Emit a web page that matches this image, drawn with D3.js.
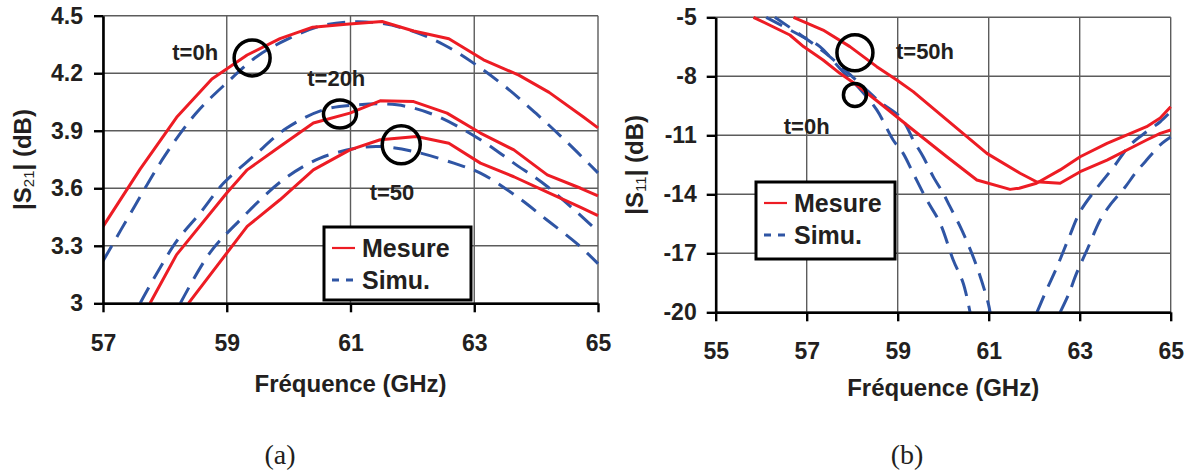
<!DOCTYPE html>
<html><head><meta charset="utf-8">
<script src="https://cdn.jsdelivr.net/npm/d3@7"></script>
<style>body{margin:0;background:#fff}svg{display:block}</style>
</head><body>
<svg id="chart" width="1192" height="473"></svg>
<script>
// ---------- Panel (a) |S21| ----------
const s21XTicks = [57, 59, 61, 63, 65];
const s21YTicks = [3, 3.3, 3.6, 3.9, 4.2, 4.5];
const s21YTickLabels = ["3", "3.3", "3.6", "3.9", "4.2", "4.5"];

const s21Mes0hFreq = [57.0,57.6,58.19,58.76,59.33,59.86,60.39,60.93,61.51,62.02,62.59,63.15,63.72,64.21,64.77,65.0];
const s21Mes0h     = [3.40,3.70,3.97,4.17,4.295,4.38,4.44,4.455,4.47,4.42,4.38,4.27,4.19,4.10,3.97,3.915];
const s21Sim0hFreq = [57.0,57.5,58.0,58.5,59.0,59.5,60.0,60.5,61.0,61.5,62.0,62.5,63.0,63.5,64.0,64.5,65.0];
const s21Sim0h     = [3.22,3.50,3.77,3.99,4.15,4.29,4.38,4.445,4.468,4.46,4.42,4.35,4.25,4.13,3.99,3.84,3.68];

const s21Mes20hFreq = [57.76,58.19,59.0,59.33,59.86,60.40,60.99,61.48,62.02,62.56,63.10,63.64,64.18,64.72,65.0];
const s21Mes20h     = [3.0,3.254,3.575,3.696,3.818,3.94,3.992,4.056,4.052,3.992,3.888,3.80,3.67,3.60,3.56];
const s21Sim20hFreq = [57.6,58.17,58.57,58.95,59.43,59.97,60.56,61.10,61.75,62.35,63.10,63.64,64.18,65.0];
const s21Sim20h     = [3.0,3.315,3.471,3.627,3.766,3.914,4.009,4.035,4.035,3.983,3.853,3.731,3.609,3.375];

const s21Mes50hFreq = [58.38,59.33,59.86,60.40,60.99,61.48,62.07,62.59,63.10,63.64,64.18,64.72,65.0];
const s21Mes50h     = [3.0,3.401,3.54,3.696,3.80,3.853,3.87,3.835,3.731,3.66,3.58,3.50,3.457];
const s21Sim50hFreq = [58.25,58.73,59.22,59.91,60.51,61.10,61.48,62.02,62.67,63.10,63.67,64.17,64.66,65.0];
const s21Sim50h     = [3.0,3.264,3.436,3.644,3.757,3.809,3.818,3.792,3.731,3.679,3.561,3.436,3.311,3.207];

// ---------- Panel (b) |S11| ----------
const s11XTicks = [55, 57, 59, 61, 63, 65];
const s11YTicks = [-20, -17, -14, -11, -8, -5];
const s11YTickLabels = ["-20", "-17", "-14", "-11", "-8", "-5"];

const s11Mes0hFreq = [55.83,56.63,56.93,57.36,57.73,58.10,58.61,59.34,60.08,60.74,61.47,61.67,62.05,62.57,63.01,63.60,64.47,64.77,65.0];
const s11Mes0h     = [-5.0,-5.90,-6.49,-7.17,-7.85,-8.44,-9.37,-10.73,-12.09,-13.27,-13.75,-13.69,-13.44,-12.76,-12.09,-11.41,-10.56,-10.12,-9.55];
const s11Mes50hFreq = [56.71,57.36,57.95,58.54,58.98,59.34,60.08,60.96,61.69,62.05,62.57,63.01,63.60,64.47,64.77,65.0];
const s11Mes50h     = [-5.0,-5.65,-6.49,-7.51,-8.19,-8.78,-10.22,-11.92,-12.93,-13.36,-13.44,-12.85,-12.26,-11.24,-10.90,-10.73];
// simulated curves dip below -20 dB (off-chart): null marks the gap
const s11Sim0hFreq = [56.11,56.80,57.29,57.73,58.15,58.54,58.90,59.12,59.34,59.64,59.93,60.22,60.44,60.59,61.3,62.06,62.27,62.49,62.77,63.01,63.37,63.73,64.11,64.47,64.77,65.0];
const s11Sim0h     = [-5.0,-5.85,-6.49,-7.60,-8.60,-9.71,-11.24,-11.92,-12.93,-14.29,-15.46,-17.34,-18.52,-20,null,-20,-18.87,-17.75,-16.17,-14.88,-13.70,-12.66,-11.49,-10.82,-10.31,-9.80];
const s11Sim50hFreq = [56.30,56.90,57.40,57.85,58.25,58.61,59.05,59.20,59.34,59.56,59.78,60.00,60.15,60.41,60.74,60.99,61.03,61.8,62.57,62.75,62.93,63.18,63.45,63.67,64.00,64.22,64.44,64.77,65.0];
const s11Sim50h     = [-5.0,-5.95,-6.80,-7.70,-8.55,-9.30,-10.05,-10.56,-11.24,-12.09,-13.10,-13.95,-14.63,-15.82,-17.68,-19.54,-20,null,-20,-19.12,-18.02,-16.73,-15.31,-14.54,-13.63,-12.93,-12.34,-11.49,-11.09];

const legendLabels = ["Mesure", "Simu."];

// ---------- drawing ----------
const svg = d3.select("#chart");
svg.append("rect").attr("width", 1192).attr("height", 473).attr("fill", "#fff");
const FONT = "'Liberation Sans', Arial, Helvetica, sans-serif";
const RED = "#ed1c24", BLUE = "#2f55a4", GRID = "#5c5c5c", INK = "#231f20";

function panel(c) {
  const g = svg.append("g");
  const x = d3.scaleLinear().domain(c.xDomain).range([c.left, c.right]);
  const y = d3.scaleLinear().domain(c.yDomain).range([c.bottom, c.top]);
  const clipId = "clip" + c.id;
  svg.append("clipPath").attr("id", clipId).append("rect")
    .attr("x", c.left).attr("y", c.top - 2).attr("width", c.right - c.left + 2).attr("height", c.bottom - c.top + 3);

  // grid
  g.append("g").selectAll("line").data(c.xTicks).join("line")
    .attr("x1", d => x(d)).attr("x2", d => x(d)).attr("y1", c.top).attr("y2", c.bottom)
    .attr("stroke", GRID).attr("stroke-width", 1.4);
  g.append("g").selectAll("line").data(c.yTicks).join("line")
    .attr("x1", c.left).attr("x2", c.right).attr("y1", d => y(d)).attr("y2", d => y(d))
    .attr("stroke", GRID).attr("stroke-width", 1.4);

  // curves
  const cg = g.append("g").attr("clip-path", `url(#${clipId})`);
  c.series.forEach(s => {
    const pts = s.f.map((f, i) => [f, s.v[i]]);
    const line = d3.line().defined(d => d[1] !== null).x(d => x(d[0])).y(d => y(d[1]))
      .curve(s.sim ? d3.curveCatmullRom.alpha(0.5) : d3.curveLinear);
    cg.append("path").attr("d", line(pts)).attr("fill", "none")
      .attr("stroke", s.sim ? BLUE : RED).attr("stroke-width", 3)
      .attr("stroke-dasharray", s.sim ? "18,10" : null)
      .attr("stroke-linejoin", "round");
  });

  // axes
  const ax = g.append("g").attr("transform", `translate(0,${c.bottom})`)
    .call(d3.axisBottom(x).tickValues(c.xTicks).tickSize(9).tickSizeOuter(0).tickPadding(c.xPad).tickFormat(d3.format("d")));
  const ay = g.append("g").attr("transform", `translate(${c.left},0)`)
    .call(d3.axisLeft(y).tickValues(c.yTicks).tickSize(9).tickSizeOuter(0).tickPadding(c.yPad).tickFormat((d, i) => c.yLabels[i]));
  [ax, ay].forEach(a => {
    a.select(".domain").attr("stroke", "#000").attr("stroke-width", 2.6);
    a.selectAll(".tick line").attr("stroke", "#000").attr("stroke-width", 2.4);
    a.selectAll(".tick text").attr("fill", INK).style("font-family", FONT)
      .style("font-size", "23px").style("font-weight", "bold");
  });

  // axis titles
  g.append("text").attr("x", (c.left + c.right) / 2).attr("y", c.xTitleY)
    .attr("text-anchor", "middle").attr("fill", INK)
    .style("font-family", FONT).style("font-size", "24px").style("font-weight", "bold")
    .text("Fréquence (GHz)");
  const yt = g.append("text")
    .attr("transform", `translate(${c.yTitleX},${(c.top + c.bottom) / 2}) rotate(-90)`)
    .attr("text-anchor", "middle").attr("fill", INK)
    .style("font-family", FONT).style("font-size", "24px").style("font-weight", "bold");
  yt.append("tspan").text("|S");
  yt.append("tspan").attr("dy", 3).style("font-size", "15px").style("font-weight", "normal").text(c.sub);
  yt.append("tspan").attr("dy", -3).text("| (dB)");

  // legend
  const L = c.legend;
  g.append("rect").attr("x", L.x).attr("y", L.y).attr("width", L.w).attr("height", L.h)
    .attr("fill", "#fff").attr("stroke", "#000").attr("stroke-width", 3);
  legendLabels.forEach((lab, i) => {
    const ly = L.y + L.rows[i];
    g.append("line").attr("x1", L.x + 8).attr("x2", L.x + 31).attr("y1", ly).attr("y2", ly)
      .attr("stroke", i === 0 ? RED : BLUE).attr("stroke-width", i === 0 ? 2.2 : 3)
      .attr("stroke-dasharray", i === 0 ? null : "7,7");
    g.append("text").attr("x", L.x + 38).attr("y", ly).attr("dy", "0.35em").attr("fill", INK)
      .style("font-family", FONT).style("font-size", "25px").style("font-weight", "bold").text(lab);
  });

  // annotations
  c.notes.forEach(n => {
    g.append("text").attr("x", x(n.f)).attr("y", y(n.v)).attr("dy", "0.35em")
      .attr("text-anchor", "middle").attr("fill", INK)
      .style("font-family", FONT).style("font-size", "22px").style("font-weight", "bold").text(n.t);
  });
  c.rings.forEach(r => {
    g.append("ellipse").attr("cx", x(r.f)).attr("cy", y(r.v)).attr("rx", r.rx).attr("ry", r.ry)
      .attr("fill", "none").attr("stroke", "#000").attr("stroke-width", 3.5);
  });

  // caption
  g.append("text").attr("x", c.capX).attr("y", 464).attr("text-anchor", "middle").attr("fill", INK)
    .style("font-family", "'Liberation Serif', 'Times New Roman', serif").style("font-size", "28px")
    .text(c.caption);
}

panel({
  id: "a", xDomain: [57, 65], yDomain: [3, 4.5],
  left: 103, right: 598, top: 15.7, bottom: 303.3,
  xTicks: s21XTicks, yTicks: s21YTicks, yLabels: s21YTickLabels,
  xPad: 22, yPad: 11, xTitleY: 392, yTitleX: 31, sub: "21",
  series: [
    { f: s21Sim0hFreq, v: s21Sim0h, sim: true },
    { f: s21Sim20hFreq, v: s21Sim20h, sim: true },
    { f: s21Sim50hFreq, v: s21Sim50h, sim: true },
    { f: s21Mes0hFreq, v: s21Mes0h, sim: false },
    { f: s21Mes20hFreq, v: s21Mes20h, sim: false },
    { f: s21Mes50hFreq, v: s21Mes50h, sim: false }
  ],
  legend: { x: 324, y: 227, w: 147, h: 73, rows: [21, 53] },
  notes: [
    { t: "t=0h", f: 58.49, v: 4.311 },
    { t: "t=20h", f: 60.77, v: 4.175 },
    { t: "t=50", f: 61.67, v: 3.577 }
  ],
  rings: [
    { f: 59.41, v: 4.28, rx: 18, ry: 18 },
    { f: 60.83, v: 3.987, rx: 16.5, ry: 14 },
    { f: 61.82, v: 3.827, rx: 19, ry: 19 }
  ],
  capX: 280, caption: "(a)"
});

panel({
  id: "b", xDomain: [55, 65], yDomain: [-20, -5],
  left: 715.7, right: 1170.7, top: 17.3, bottom: 312.3,
  xTicks: s11XTicks, yTicks: s11YTicks, yLabels: s11YTickLabels,
  xPad: 21, yPad: 10, xTitleY: 396, yTitleX: 643, sub: "11",
  series: [
    { f: s11Sim0hFreq, v: s11Sim0h, sim: true },
    { f: s11Sim50hFreq, v: s11Sim50h, sim: true },
    { f: s11Mes0hFreq, v: s11Mes0h, sim: false },
    { f: s11Mes50hFreq, v: s11Mes50h, sim: false }
  ],
  legend: { x: 756, y: 182, w: 139, h: 77, rows: [21, 53] },
  notes: [
    { t: "t=50h", f: 59.6, v: -6.75 },
    { t: "t=0h", f: 57.0, v: -10.56 }
  ],
  rings: [
    { f: 58.06, v: -6.8, rx: 18, ry: 18 },
    { f: 58.06, v: -8.95, rx: 11.5, ry: 11.5 }
  ],
  capX: 907, caption: "(b)"
});
</script>
</body></html>
